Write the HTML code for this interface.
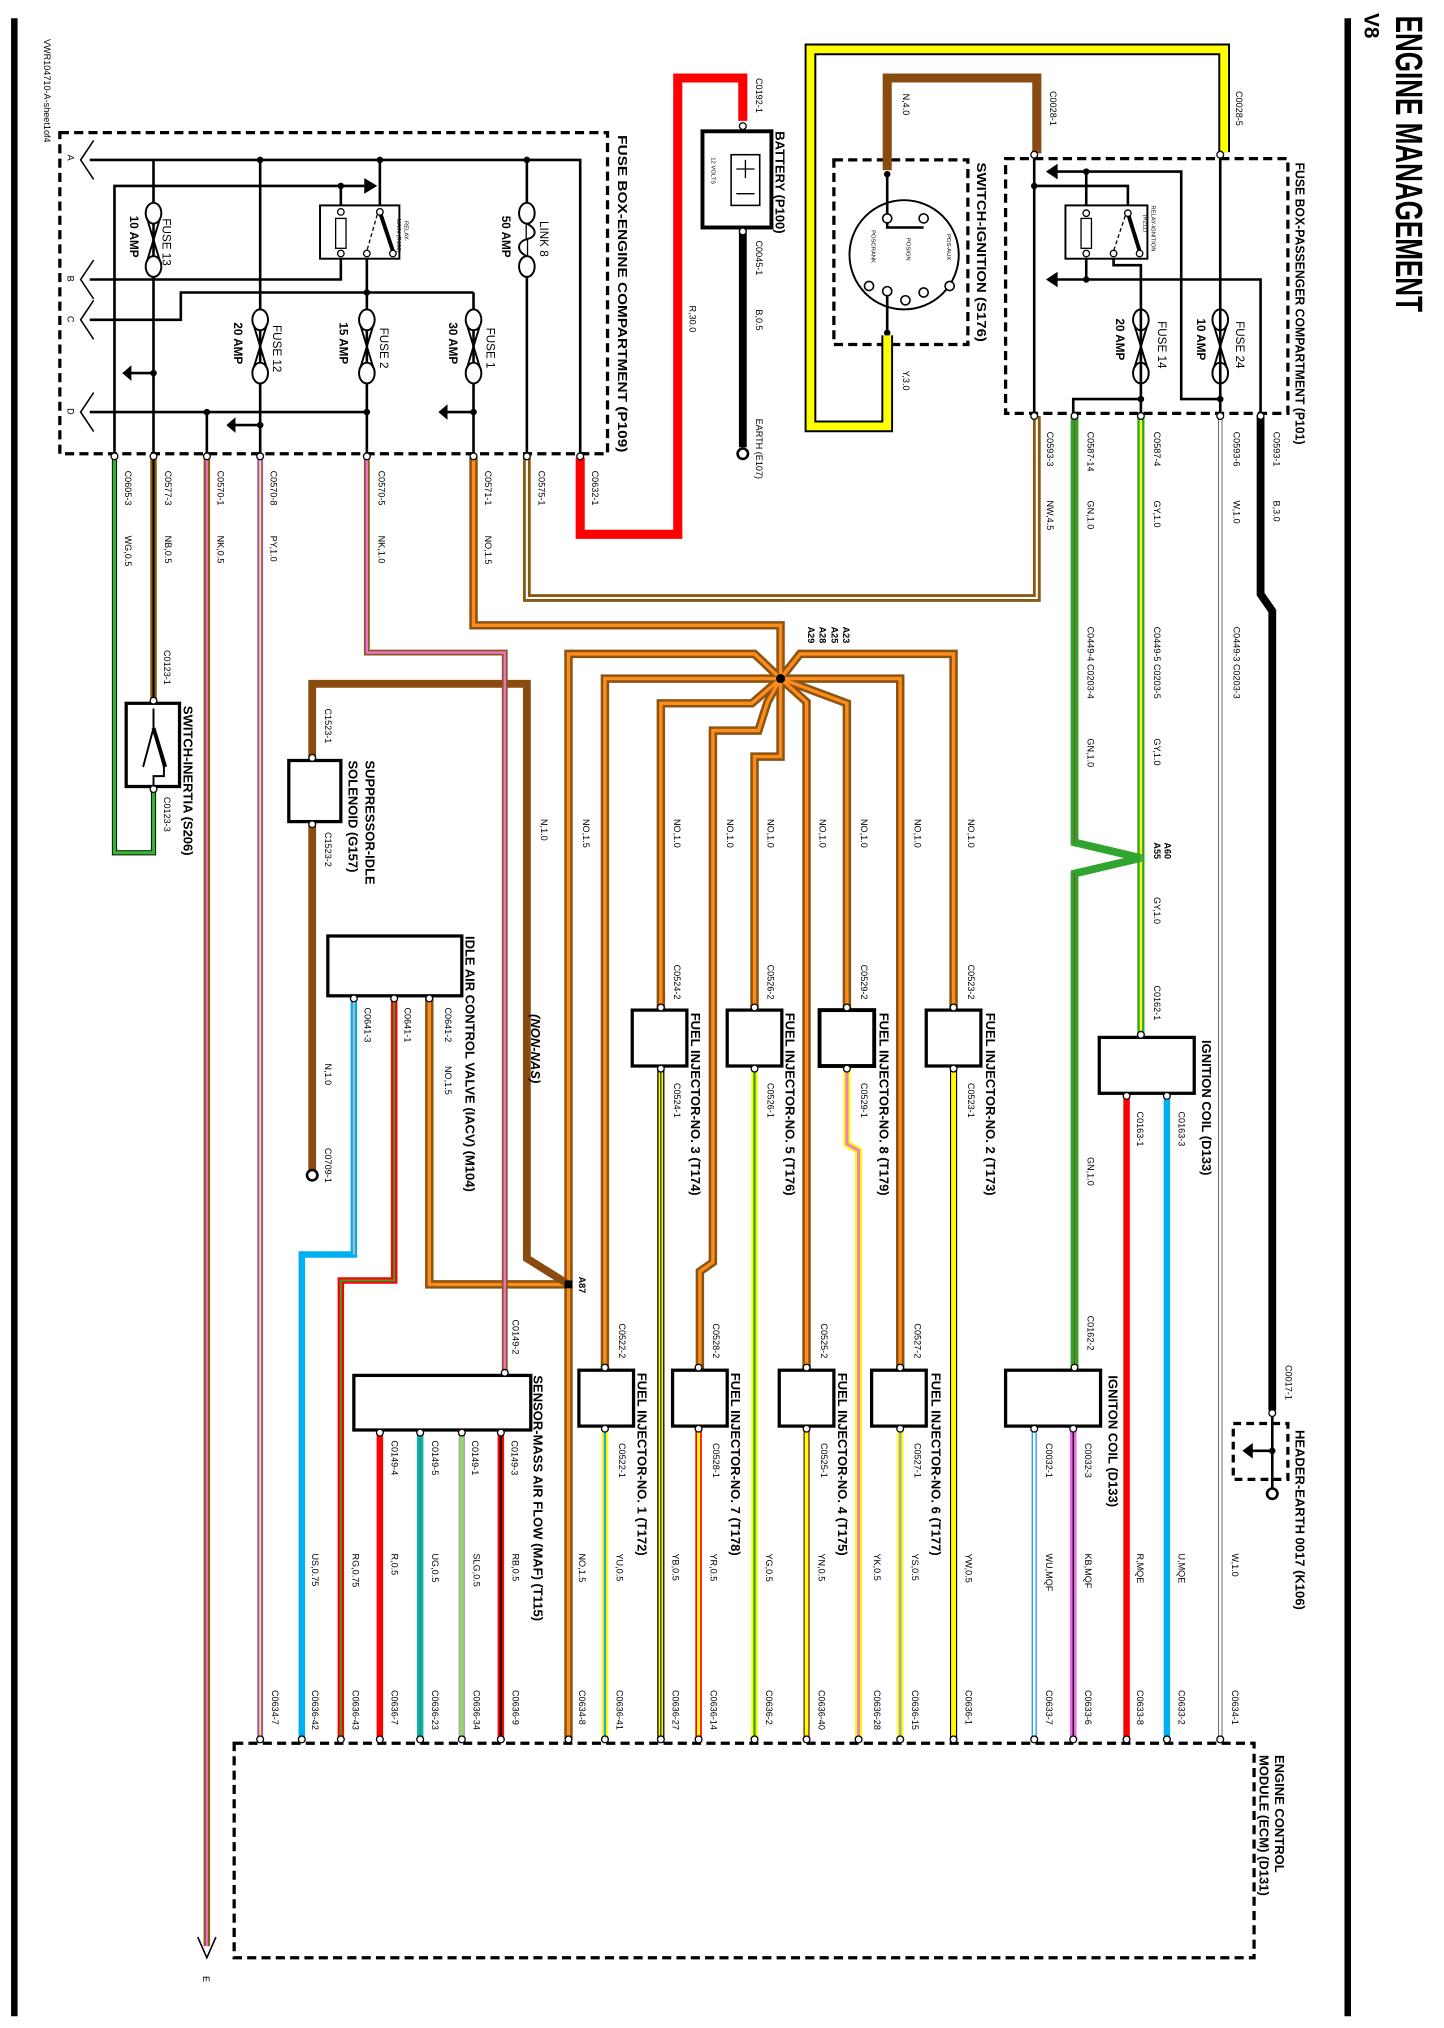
<!DOCTYPE html>
<html><head><meta charset="utf-8">
<style>
html,body{margin:0;padding:0;background:#fff;}
svg{display:block;}
text{font-family:"Liberation Sans",Arial,sans-serif;fill:#000;}
.s{font-size:7px;}
.b{font-size:10px;font-weight:bold;}
.f{font-size:9px;}
.t{font-size:4.5px;}
</style></head><body>
<svg width="1444" height="2028" viewBox="0 0 1110 1560" preserveAspectRatio="none" xmlns="http://www.w3.org/2000/svg">
<rect width="1110" height="1560" fill="#fff"/>
<g fill="none" stroke-linejoin="miter" stroke-linecap="butt">
<!-- page borders -->
<line x1="11" y1="14" x2="11" y2="1551" stroke="#000" stroke-width="5"/>
<line x1="1036" y1="14" x2="1036" y2="1551" stroke="#000" stroke-width="5"/>

<!-- dashed boxes -->
<rect x="46" y="102" width="421" height="247" stroke="#000" stroke-width="2.5" stroke-dasharray="7,4"/>
<rect x="773" y="122" width="217" height="196" stroke="#000" stroke-width="2.5" stroke-dasharray="7,4"/>
<rect x="641" y="123" width="103" height="142" stroke="#000" stroke-width="2.5" stroke-dasharray="7,4"/>
<rect x="180" y="1341" width="784" height="165" stroke="#000" stroke-width="2.5" stroke-dasharray="7,4"/>
<rect x="948" y="1095" width="42" height="43" stroke="#000" stroke-width="2.5" stroke-dasharray="6,4"/>

<!-- engine fuse box internals -->
<g stroke="#000" stroke-width="2">
<path d="M69,123 H446 V349"/>
<path d="M118,123 V349"/>
<path d="M200,123 V349"/>
<path d="M292,123 V163"/>
<path d="M405,123 V349"/>
<path d="M88,349 V143 H280"/>
<path d="M262,143 V163"/>
<path d="M262,195 V215 H69"/>
<path d="M282,195 V349"/>
<path d="M364,225 H139 V246 H69"/>
<path d="M364,225 V349"/>
<path d="M69,317 H282"/>
<path d="M159,317 V349"/>
<path d="M118,287 H100"/><path d="M200,327 H180"/><path d="M364,317 H343"/>
</g>
<g fill="#000">
<path d="M280,137 L290,143 L280,149Z"/>
<path d="M94,287 L101,281 L101,293Z"/>
<path d="M174,327 L181,321 L181,333Z"/>
<path d="M337,317 L344,311 L344,323Z"/>
<circle cx="200" cy="123" r="2.5"/><circle cx="292" cy="123" r="2.5"/><circle cx="405" cy="123" r="2.5"/>
<circle cx="262" cy="143" r="2.5"/><circle cx="282" cy="225" r="2.5"/><circle cx="118" cy="287" r="2.5"/>
<circle cx="159" cy="317" r="2.5"/><circle cx="282" cy="317" r="2.5"/><circle cx="200" cy="327" r="2.5"/><circle cx="364" cy="317" r="2.5"/>
</g>
<!-- chevrons A B C D -->
<g stroke="#000" stroke-width="1.2">
<path d="M72,108 L62,123 L72,138"/>
<path d="M72,200 L62,215 L72,230"/>
<path d="M72,231 L62,246 L72,261"/>
<path d="M72,302 L62,317 L72,332"/>
</g>
<!-- relay main -->
<rect x="246" y="158" width="61" height="41" fill="#fff" stroke="#000" stroke-width="1.5"/>
<rect x="258" y="168" width="8" height="23" fill="#fff" stroke="#000" stroke-width="1"/>
<path d="M292,163 L302,193" stroke="#000" stroke-width="3"/>
<path d="M290,165 L282,193" stroke="#000" stroke-width="1" stroke-dasharray="3,2"/>
<g fill="#fff" stroke="#000" stroke-width="1"><circle cx="262" cy="163" r="2.5"/><circle cx="262" cy="195" r="2.5"/><circle cx="292" cy="163" r="2.5"/><circle cx="282" cy="195" r="2.5"/><circle cx="302" cy="195" r="2.5"/></g>

<!-- fuses engine -->
<g fill="#fff" stroke="#000" stroke-width="1.5">
<g transform="translate(118,156)"><ellipse cx="0" cy="8" rx="6" ry="8"/><ellipse cx="0" cy="49" rx="6" ry="8"/><path d="M-5,12 L5,45 M5,12 L-5,45" fill="none"/></g>
<g transform="translate(200,238)"><ellipse cx="0" cy="8" rx="6" ry="8"/><ellipse cx="0" cy="49" rx="6" ry="8"/><path d="M-5,12 L5,45 M5,12 L-5,45" fill="none"/></g>
<g transform="translate(282,238)"><ellipse cx="0" cy="8" rx="6" ry="8"/><ellipse cx="0" cy="49" rx="6" ry="8"/><path d="M-5,12 L5,45 M5,12 L-5,45" fill="none"/></g>
<g transform="translate(364,238)"><ellipse cx="0" cy="8" rx="6" ry="8"/><ellipse cx="0" cy="49" rx="6" ry="8"/><path d="M-5,12 L5,45 M5,12 L-5,45" fill="none"/></g>
<g transform="translate(405,156)"><ellipse cx="0" cy="8" rx="6" ry="8"/><ellipse cx="0" cy="49" rx="6" ry="8"/><path d="M0,16 C8,20 8,26 0,28 C-8,30 -8,38 0,41" /></g>
<g transform="translate(877,238)"><ellipse cx="0" cy="8" rx="6" ry="8"/><ellipse cx="0" cy="49" rx="6" ry="8"/><path d="M-5,12 L5,45 M5,12 L-5,45" fill="none"/></g>
<g transform="translate(938,238)"><ellipse cx="0" cy="8" rx="6" ry="8"/><ellipse cx="0" cy="49" rx="6" ry="8"/><path d="M-5,12 L5,45 M5,12 L-5,45" fill="none"/></g>
</g>

<!-- passenger box internals -->
<g stroke="#000" stroke-width="2">
<path d="M795,118 V318"/>
<path d="M795,143 H867 V164"/>
<path d="M835,132 V215"/>
<path d="M812,132 H908 V307 H938"/>
<path d="M812,215 H969 V318"/>
<path d="M856,195 V204 H877 V318"/>
<path d="M877,307 H825 V318"/>
<path d="M938,118 V318"/>
</g>
<g fill="#000">
<path d="M804,132 L813,126 L813,138Z"/><path d="M804,215 L813,209 L813,221Z"/>
<circle cx="795" cy="143" r="2.5"/><circle cx="835" cy="132" r="2.5"/><circle cx="835" cy="215" r="2.5"/><circle cx="877" cy="307" r="2.5"/><circle cx="938" cy="307" r="2.5"/>
</g>
<rect x="819" y="158" width="63" height="41" fill="#fff" stroke="#000" stroke-width="1.5"/>
<rect x="831" y="168" width="8" height="23" fill="#fff" stroke="#000" stroke-width="1"/>
<path d="M867,164 L876,193" stroke="#000" stroke-width="3"/>
<path d="M865,166 L856,193" stroke="#000" stroke-width="1" stroke-dasharray="3,2"/>
<g fill="#fff" stroke="#000" stroke-width="1"><circle cx="835" cy="164" r="2.5"/><circle cx="835" cy="195" r="2.5"/><circle cx="867" cy="164" r="2.5"/><circle cx="856" cy="195" r="2.5"/><circle cx="876" cy="195" r="2.5"/></g>

<!-- ignition switch -->
<circle cx="695" cy="196" r="42" fill="#fff" stroke="#000" stroke-width="1.5"/>
<path d="M682,134 V175 H710 M682,224 V256" stroke="#000" stroke-width="2"/>
<g fill="#fff" stroke="#000" stroke-width="1.2"><circle cx="682" cy="168" r="3.5"/><circle cx="710" cy="168" r="3.5"/><circle cx="682" cy="224" r="3.5"/><circle cx="668" cy="220" r="3.5"/><circle cx="696" cy="231" r="3.5"/><circle cx="710" cy="225" r="3.5"/><circle cx="730" cy="220" r="3.5"/></g>
<circle cx="682" cy="134" r="2.5" fill="#000"/><circle cx="682" cy="256" r="2.5" fill="#000"/>

<!-- ===== WIRES ===== -->
<!-- red battery -->
<path d="M446,352 V411 H521 V60 H571 V93" stroke="#f00" stroke-width="7"/>
<path d="M571,175 V344" stroke="#000" stroke-width="6"/>
<!-- brown N4.0 -->
<path d="M682,131 V60 H797 V118" stroke="#8a4b10" stroke-width="7"/>
<!-- yellow Y3.0 -->
<path d="M682,258 V328 H623 V38 H941 V117" stroke="#000" stroke-width="9"/>
<path d="M682,258 V328 H623 V38 H941 V117" stroke="#ff0" stroke-width="6"/>
<!-- NW -->
<path d="M405,352 V460 H797 V320" stroke="#8a5a14" stroke-width="6"/>
<path d="M405,352 V460 H797 V320" stroke="#fff" stroke-width="1.6"/>
<!-- thick orange harness -->
<g stroke="#8a5514" stroke-width="6.5">
<path d="M364,352 V481 H600 V522"/>
<path d="M600,522 L580,503 H437 V1337"/>
<path d="M600,522 H465 V1054"/>
<path d="M600,522 L578,541 H508 V777"/>
<path d="M600,522 L590,540 L583,562 H548 V971 L538,978 V1054"/>
<path d="M600,522 V582 H580 V777"/>
<path d="M600,522 L620,540 V1054"/>
<path d="M600,522 L651,541 V777"/>
<path d="M600,522 H692 V1054"/>
<path d="M600,522 L615,503 H733 V777"/>
<path d="M330,768 V988 H437"/>
</g>
<g stroke="#ff8c1a" stroke-width="2.6">
<path d="M364,352 V481 H600 V522"/>
<path d="M600,522 L580,503 H437 V1337"/>
<path d="M600,522 H465 V1054"/>
<path d="M600,522 L578,541 H508 V777"/>
<path d="M600,522 L590,540 L583,562 H548 V971 L538,978 V1054"/>
<path d="M600,522 V582 H580 V777"/>
<path d="M600,522 L620,540 V1054"/>
<path d="M600,522 L651,541 V777"/>
<path d="M600,522 H692 V1054"/>
<path d="M600,522 L615,503 H733 V777"/>
<path d="M330,768 V988 H437"/>
</g>
<circle cx="600" cy="522" r="3.5" fill="#000"/>
<!-- brown N1.0 thick solid -->
<path d="M240,582 V526 H405 V968 L437,988" stroke="#8a4b10" stroke-width="6"/>
<path d="M240,632 V900" stroke="#8a4b10" stroke-width="6"/>
<rect x="434" y="985" width="6" height="6" fill="#000"/>
<!-- NK pink to MAF -->
<path d="M282,352 V502 H388 V1055" stroke="#8a5a14" stroke-width="4.5"/>
<path d="M282,352 V502 H388 V1055" stroke="#f070e0" stroke-width="1.8"/>
<!-- PY -->
<path d="M200,352 V1337" stroke="#a050e0" stroke-width="4.5"/>
<path d="M200,352 V1337" stroke="#ff0" stroke-width="1.3"/>
<!-- NK long -->
<path d="M159,352 V1497" stroke="#8a5a14" stroke-width="5"/>
<path d="M159,352 V1497" stroke="#f070e0" stroke-width="1.6"/>
<!-- NB -->
<path d="M118,352 V545" stroke="#8a5a14" stroke-width="5"/>
<path d="M118,352 V545" stroke="#000" stroke-width="1.6"/>
<!-- WG green loop -->
<path d="M88,352 V656 H118 V606" stroke="#000" stroke-width="4"/>
<path d="M88,352 V656 H118 V606" stroke="#2fb52f" stroke-width="2.6"/>
<!-- B3.0 -->
<path d="M969,320 V457 L978,470 V1085" stroke="#000" stroke-width="6"/>
<!-- W1.0 -->
<path d="M938,320 V1337" stroke="#666" stroke-width="3.5"/>
<path d="M938,320 V1337" stroke="#fff" stroke-width="2"/>
<!-- GY -->
<path d="M877,320 V795" stroke="#2fa52f" stroke-width="5.5"/>
<path d="M877,320 V795" stroke="#ff0" stroke-width="1.8"/>
<!-- GN -->
<path d="M826,320 V648 L877,660 L826,672 V1054" stroke="#2fa52f" stroke-width="6"/>
<path d="M826,320 V648 M826,672 V1054" stroke="#8a5a14" stroke-width="1"/>
<!-- coil outputs -->
<path d="M866,843 V1337" stroke="#f00" stroke-width="5"/>
<path d="M897,843 V1337" stroke="#00aff0" stroke-width="5"/>
<path d="M795,1099 V1337" stroke="#1a9ee0" stroke-width="4"/><path d="M795,1099 V1337" stroke="#fff" stroke-width="2"/>
<path d="M825,1099 V1337" stroke="#ee66ee" stroke-width="5"/><path d="M825,1099 V1337" stroke="#000" stroke-width="1"/>
<!-- injector outputs upper -->
<path d="M508,822 V1337" stroke="#000" stroke-width="5.5"/><path d="M508,822 V1337" stroke="#ff0" stroke-width="3.5"/><path d="M508,822 V1337" stroke="#000" stroke-width="0.8"/>
<path d="M580,822 V1337" stroke="#ff0" stroke-width="5"/><path d="M580,822 V1337" stroke="#2fa52f" stroke-width="1.8"/>
<path d="M651,822 V880 L660,885 V1337" stroke="#ff0" stroke-width="5.5"/><path d="M651,822 V880 L660,885 V1337" stroke="#f080c0" stroke-width="2.4"/>
<path d="M733,822 V1337" stroke="#000" stroke-width="5.5"/><path d="M733,822 V1337" stroke="#ff0" stroke-width="3.8"/>
<!-- injector outputs lower -->
<path d="M465,1099 V1337" stroke="#ff0" stroke-width="5"/><path d="M465,1099 V1337" stroke="#2aa8e0" stroke-width="1.8"/>
<path d="M537,1099 V1337" stroke="#f00" stroke-width="5"/><path d="M537,1099 V1337" stroke="#ff0" stroke-width="2.4"/>
<path d="M620,1099 V1337" stroke="#8a5a14" stroke-width="5"/><path d="M620,1099 V1337" stroke="#ff0" stroke-width="2.4"/>
<path d="M692,1099 V1337" stroke="#ff0" stroke-width="5"/><path d="M692,1099 V1337" stroke="#aaa" stroke-width="2"/>
<!-- IACV outputs -->
<path d="M272,768 V965 H232 V1337" stroke="#00aff0" stroke-width="5"/><path d="M272,768 V965" stroke="#bbb" stroke-width="1.5"/>
<path d="M303,768 V985 H262 V1337" stroke="#f00" stroke-width="5"/><path d="M303,768 V985 H262 V1337" stroke="#2fa52f" stroke-width="1.5"/>
<!-- MAF outputs -->
<path d="M292,1100 V1337" stroke="#f00" stroke-width="5"/>
<path d="M323,1100 V1337" stroke="#00aff0" stroke-width="5"/><path d="M323,1100 V1337" stroke="#2fa52f" stroke-width="1.8"/>
<path d="M355,1100 V1337" stroke="#aaa" stroke-width="5"/><path d="M355,1100 V1337" stroke="#90e060" stroke-width="2.4"/>
<path d="M385,1100 V1337" stroke="#f00" stroke-width="5"/><path d="M385,1100 V1337" stroke="#000" stroke-width="1.6"/>

<!-- components boxes -->
<g fill="#fff" stroke="#000">
<rect x="540" y="101" width="53" height="74" stroke-width="3"/>
<rect x="562" y="119" width="22" height="39" stroke-width="1.2"/>
<rect x="97" y="541" width="41" height="64" stroke-width="2.5"/>
<rect x="222" y="585" width="40" height="47" stroke-width="2.5"/>
<rect x="252" y="720" width="103" height="46" stroke-width="2.5"/>
<rect x="272" y="1058" width="136" height="42" stroke-width="2.5"/>
<rect x="845" y="798" width="73" height="43" stroke-width="2.5"/>
<rect x="773" y="1054" width="73" height="43" stroke-width="2.5"/>
<rect x="486" y="777" width="42" height="43" stroke-width="2.5"/>
<rect x="559" y="777" width="42" height="43" stroke-width="2.5"/>
<rect x="630" y="777" width="42" height="43" stroke-width="3"/>
<rect x="712" y="777" width="42" height="43" stroke-width="2.5"/>
<rect x="445" y="1054" width="42" height="43" stroke-width="2.5"/>
<rect x="517" y="1054" width="42" height="43" stroke-width="2.5"/>
<rect x="599" y="1054" width="42" height="43" stroke-width="2.5"/>
<rect x="670" y="1054" width="42" height="43" stroke-width="2.5"/>
</g>
<path d="M566,130 H580 M573,123 V137 M566,149 H580" stroke="#000" stroke-width="1"/>
<!-- inertia switch internals -->
<path d="M118,545 V560 L126,590 M118,560 L110,590 M126,590 V597 H118 V606" stroke="#000" stroke-width="1.5"/>
<path d="M118,560 L127,590" stroke="#000" stroke-width="3"/>
<!-- header earth internals -->
<path d="M978,1085 V1146 M978,1116 H962" stroke="#000" stroke-width="2"/>
<path d="M955,1116 L963,1110 L963,1122Z" fill="#000"/>
<circle cx="978" cy="1116" r="2.5" fill="#000"/>
<!-- eyelets -->
<g fill="#fff" stroke="#000" stroke-width="2"><circle cx="571" cy="349" r="4"/><circle cx="240" cy="904" r="4"/><circle cx="978" cy="1149" r="4"/></g>
<!-- E chevron -->
<path d="M152,1490 L159,1506 L166,1490" stroke="#000" stroke-width="1.2"/>

<!-- terminals -->
<g fill="#fff" stroke="#000" stroke-width="1">
<circle cx="88" cy="351" r="2.6"/><circle cx="118" cy="351" r="2.6"/><circle cx="159" cy="351" r="2.6"/><circle cx="200" cy="351" r="2.6"/><circle cx="282" cy="351" r="2.6"/><circle cx="364" cy="351" r="2.6"/><circle cx="405" cy="351" r="2.6"/><circle cx="446" cy="351" r="2.6"/>
<circle cx="795" cy="320" r="2.6"/><circle cx="826" cy="320" r="2.6"/><circle cx="877" cy="320" r="2.6"/><circle cx="938" cy="320" r="2.6"/><circle cx="969" cy="320" r="2.6"/>
<circle cx="795" cy="119" r="2.6"/><circle cx="938" cy="119" r="2.6"/><circle cx="571" cy="97" r="2.6"/><circle cx="571" cy="178" r="2.6"/>
<circle cx="118" cy="539" r="2.6"/><circle cx="118" cy="607" r="2.6"/><circle cx="240" cy="583" r="2.6"/><circle cx="240" cy="634" r="2.6"/>
<circle cx="272" cy="768" r="2.6"/><circle cx="303" cy="768" r="2.6"/><circle cx="330" cy="768" r="2.6"/>
<circle cx="388" cy="1056" r="2.6"/><circle cx="292" cy="1102" r="2.6"/><circle cx="323" cy="1102" r="2.6"/><circle cx="355" cy="1102" r="2.6"/><circle cx="385" cy="1102" r="2.6"/>
<circle cx="877" cy="796" r="2.6"/><circle cx="866" cy="843" r="2.6"/><circle cx="897" cy="843" r="2.6"/>
<circle cx="826" cy="1052" r="2.6"/><circle cx="795" cy="1099" r="2.6"/><circle cx="825" cy="1099" r="2.6"/><circle cx="978" cy="1087" r="2.6"/>
<circle cx="508" cy="775" r="2.6"/><circle cx="580" cy="775" r="2.6"/><circle cx="651" cy="775" r="2.6"/><circle cx="733" cy="775" r="2.6"/>
<circle cx="508" cy="822" r="2.6"/><circle cx="580" cy="822" r="2.6"/><circle cx="651" cy="822" r="2.6"/><circle cx="733" cy="822" r="2.6"/>
<circle cx="465" cy="1052" r="2.6"/><circle cx="537" cy="1052" r="2.6"/><circle cx="620" cy="1052" r="2.6"/><circle cx="692" cy="1052" r="2.6"/>
<circle cx="465" cy="1099" r="2.6"/><circle cx="537" cy="1099" r="2.6"/><circle cx="620" cy="1099" r="2.6"/><circle cx="692" cy="1099" r="2.6"/>
<circle cx="200" cy="1338" r="2.6"/><circle cx="232" cy="1338" r="2.6"/><circle cx="262" cy="1338" r="2.6"/><circle cx="292" cy="1338" r="2.6"/><circle cx="323" cy="1338" r="2.6"/><circle cx="355" cy="1338" r="2.6"/><circle cx="385" cy="1338" r="2.6"/><circle cx="437" cy="1338" r="2.6"/><circle cx="465" cy="1338" r="2.6"/><circle cx="508" cy="1338" r="2.6"/><circle cx="537" cy="1338" r="2.6"/><circle cx="580" cy="1338" r="2.6"/><circle cx="620" cy="1338" r="2.6"/><circle cx="660" cy="1338" r="2.6"/><circle cx="692" cy="1338" r="2.6"/><circle cx="733" cy="1338" r="2.6"/><circle cx="795" cy="1338" r="2.6"/><circle cx="825" cy="1338" r="2.6"/><circle cx="866" cy="1338" r="2.6"/><circle cx="897" cy="1338" r="2.6"/><circle cx="938" cy="1338" r="2.6"/>
</g>
</g>

<!-- ===== TEXT (rotated 90deg) ===== -->
<g>
<text x="1073" y="12" transform="rotate(90 1073 12)" style="font-size:29px;font-weight:bold" textLength="228" lengthAdjust="spacingAndGlyphs">ENGINE MANAGEMENT</text>
<text x="1049" y="10" transform="rotate(90 1049 10)" style="font-size:16px;font-weight:bold">V8</text>
<text class="s" x="34" y="30" transform="rotate(90 34 30)">VWR104710-A-sheet1of4</text>

<text class="b" x="475" y="104" transform="rotate(90 475 104)" textLength="244" lengthAdjust="spacingAndGlyphs">FUSE BOX-ENGINE COMPARTMENT (P109)</text>
<text class="b" x="996" y="125" transform="rotate(90 996 125)" textLength="217" lengthAdjust="spacingAndGlyphs">FUSE BOX-PASSENGER COMPARTMENT (P101)</text>
<text class="b" x="596" y="101" transform="rotate(90 596 101)">BATTERY (P100)</text>
<text class="b" x="751" y="125" transform="rotate(90 751 125)" textLength="138" lengthAdjust="spacingAndGlyphs">SWITCH-IGNITION (S176)</text>
<text class="t" x="547" y="121" transform="rotate(90 547 121)">12 VOLTS</text>

<text class="s" x="52" y="119" transform="rotate(90 52 119)">A</text>
<text class="s" x="52" y="212" transform="rotate(90 52 212)">B</text>
<text class="s" x="52" y="243" transform="rotate(90 52 243)">C</text>
<text class="s" x="52" y="314" transform="rotate(90 52 314)">D</text>

<text class="f" x="125" y="168" transform="rotate(90 125 168)">FUSE 13</text>
<text class="f" x="100" y="166" transform="rotate(90 100 166)" font-weight="bold">10 AMP</text>
<text class="f" x="210" y="250" transform="rotate(90 210 250)">FUSE 12</text>
<text class="f" x="180" y="248" transform="rotate(90 180 248)" font-weight="bold">20 AMP</text>
<text class="f" x="292" y="252" transform="rotate(90 292 252)">FUSE 2</text>
<text class="f" x="261" y="248" transform="rotate(90 261 248)" font-weight="bold">15 AMP</text>
<text class="f" x="374" y="252" transform="rotate(90 374 252)">FUSE 1</text>
<text class="f" x="345" y="248" transform="rotate(90 345 248)" font-weight="bold">30 AMP</text>
<text class="f" x="415" y="170" transform="rotate(90 415 170)">LINK 8</text>
<text class="f" x="386" y="166" transform="rotate(90 386 166)" font-weight="bold">50 AMP</text>
<text class="t" x="311" y="170" transform="rotate(90 311 170)">RELAY-</text>
<text class="t" x="305" y="168" transform="rotate(90 305 168)">MAIN (R100)</text>
<text class="t" x="885" y="158" transform="rotate(90 885 158)">RELAY-IGNITION</text>
<text class="t" x="879" y="165" transform="rotate(90 879 165)">(R211)</text>
<text class="f" x="890" y="247" transform="rotate(90 890 247)">FUSE 14</text>
<text class="f" x="858" y="245" transform="rotate(90 858 245)" font-weight="bold">20 AMP</text>
<text class="f" x="950" y="247" transform="rotate(90 950 247)">FUSE 24</text>
<text class="f" x="920" y="245" transform="rotate(90 920 245)" font-weight="bold">10 AMP</text>
<text class="t" x="728" y="180" transform="rotate(90 728 180)">POS-AUX</text>
<text class="t" x="697" y="183" transform="rotate(90 697 183)">POSIGN</text>
<text class="t" x="670" y="177" transform="rotate(90 670 177)">POSCRANK</text>

<!-- battery/switch wire labels -->
<text class="s" x="581" y="60" transform="rotate(90 581 60)">C0192-1</text>
<text class="s" x="581" y="185" transform="rotate(90 581 185)">C0045-1</text>
<text class="s" x="581" y="238" transform="rotate(90 581 238)">B,0.5</text>
<text class="s" x="581" y="322" transform="rotate(90 581 322)">EARTH (E107)</text>
<text class="s" x="530" y="235" transform="rotate(90 530 235)">R,30.0</text>
<text class="s" x="694" y="72" transform="rotate(90 694 72)">N,4.0</text>
<text class="s" x="694" y="285" transform="rotate(90 694 285)">Y,3.0</text>
<text class="s" x="807" y="70" transform="rotate(90 807 70)">C0028-1</text>
<text class="s" x="950" y="70" transform="rotate(90 950 70)">C0028-5</text>

<!-- engine box bottom labels -->
<text class="s" x="96" y="362" transform="rotate(90 96 362)">C0605-3</text>
<text class="s" x="127" y="362" transform="rotate(90 127 362)">C0577-3</text>
<text class="s" x="167" y="362" transform="rotate(90 167 362)">C0570-1</text>
<text class="s" x="208" y="362" transform="rotate(90 208 362)">C0570-8</text>
<text class="s" x="291" y="362" transform="rotate(90 291 362)">C0570-5</text>
<text class="s" x="373" y="362" transform="rotate(90 373 362)">C0571-1</text>
<text class="s" x="414" y="362" transform="rotate(90 414 362)">C0575-1</text>
<text class="s" x="455" y="362" transform="rotate(90 455 362)">C0632-1</text>
<text class="s" x="96" y="412" transform="rotate(90 96 412)">WG,0.5</text>
<text class="s" x="127" y="412" transform="rotate(90 127 412)">NB,0.5</text>
<text class="s" x="167" y="412" transform="rotate(90 167 412)">NK,0.5</text>
<text class="s" x="208" y="412" transform="rotate(90 208 412)">PY,1.0</text>
<text class="s" x="291" y="412" transform="rotate(90 291 412)">NK,1.0</text>
<text class="s" x="373" y="412" transform="rotate(90 373 412)">NO,1.5</text>

<!-- passenger bottom labels -->
<text class="s" x="805" y="332" transform="rotate(90 805 332)">C0593-3</text>
<text class="s" x="836" y="332" transform="rotate(90 836 332)">C0587-14</text>
<text class="s" x="887" y="332" transform="rotate(90 887 332)">C0587-4</text>
<text class="s" x="948" y="332" transform="rotate(90 948 332)">C0593-6</text>
<text class="s" x="979" y="332" transform="rotate(90 979 332)">C0593-1</text>
<text class="s" x="805" y="385" transform="rotate(90 805 385)">NW,4.5</text>
<text class="s" x="836" y="385" transform="rotate(90 836 385)">GN,1.0</text>
<text class="s" x="887" y="385" transform="rotate(90 887 385)">GY,1.0</text>
<text class="s" x="948" y="385" transform="rotate(90 948 385)">W,1.0</text>
<text class="s" x="979" y="385" transform="rotate(90 979 385)">B,3.0</text>
<text class="s" x="836" y="482" transform="rotate(90 836 482)">C0449-4 C0203-4</text>
<text class="s" x="887" y="482" transform="rotate(90 887 482)">C0449-5 C0203-5</text>
<text class="s" x="948" y="482" transform="rotate(90 948 482)">C0449-3 C0203-3</text>
<text class="s" x="836" y="568" transform="rotate(90 836 568)">GN,1.0</text>
<text class="s" x="887" y="568" transform="rotate(90 887 568)">GY,1.0</text>
<text class="s" x="895" y="648" transform="rotate(90 895 648)" font-weight="bold">A60</text>
<text class="s" x="887" y="648" transform="rotate(90 887 648)" font-weight="bold">A55</text>
<text class="s" x="887" y="690" transform="rotate(90 887 690)">GY,1.0</text>
<text class="s" x="887" y="758" transform="rotate(90 887 758)">C0162-1</text>
<text class="b" x="924" y="800" transform="rotate(90 924 800)">IGNITION COIL (D133)</text>
<text class="s" x="874" y="855" transform="rotate(90 874 855)">C0163-1</text>
<text class="s" x="906" y="855" transform="rotate(90 906 855)">C0163-3</text>
<text class="s" x="836" y="890" transform="rotate(90 836 890)">GN,1.0</text>
<text class="s" x="836" y="1012" transform="rotate(90 836 1012)">C0162-2</text>
<text class="b" x="852" y="1058" transform="rotate(90 852 1058)">IGNITON COIL (D133)</text>
<text class="s" x="804" y="1110" transform="rotate(90 804 1110)">C0032-1</text>
<text class="s" x="834" y="1110" transform="rotate(90 834 1110)">C0032-3</text>
<text class="s" x="988" y="1050" transform="rotate(90 988 1050)">C0017-1</text>
<text class="b" x="996" y="1100" transform="rotate(90 996 1100)">HEADER-EARTH 0017 (K106)</text>
<text class="b" x="980" y="1350" transform="rotate(90 980 1350)">ENGINE CONTROL</text>
<text class="b" x="968" y="1350" transform="rotate(90 968 1350)">MODULE (ECM) (D131)</text>

<!-- splice -->
<text class="s" x="648" y="482" transform="rotate(90 648 482)" font-weight="bold">A23</text>
<text class="s" x="639" y="482" transform="rotate(90 639 482)" font-weight="bold">A25</text>
<text class="s" x="630" y="482" transform="rotate(90 630 482)" font-weight="bold">A28</text>
<text class="s" x="621" y="482" transform="rotate(90 621 482)" font-weight="bold">A29</text>
<text class="s" x="744" y="630" transform="rotate(90 744 630)">NO,1.0</text>
<text class="s" x="703" y="630" transform="rotate(90 703 630)">NO,1.0</text>
<text class="s" x="662" y="630" transform="rotate(90 662 630)">NO,1.0</text>
<text class="s" x="630" y="630" transform="rotate(90 630 630)">NO,1.0</text>
<text class="s" x="590" y="630" transform="rotate(90 590 630)">NO,1.0</text>
<text class="s" x="559" y="630" transform="rotate(90 559 630)">NO,1.0</text>
<text class="s" x="518" y="630" transform="rotate(90 518 630)">NO,1.0</text>
<text class="s" x="448" y="630" transform="rotate(90 448 630)">NO,1.5</text>
<text class="s" x="416" y="630" transform="rotate(90 416 630)">N,1.0</text>

<!-- injectors -->
<text class="s" x="744" y="742" transform="rotate(90 744 742)">C0523-2</text>
<text class="s" x="662" y="742" transform="rotate(90 662 742)">C0529-2</text>
<text class="s" x="590" y="742" transform="rotate(90 590 742)">C0526-2</text>
<text class="s" x="518" y="742" transform="rotate(90 518 742)">C0524-2</text>
<text class="s" x="744" y="833" transform="rotate(90 744 833)">C0523-1</text>
<text class="s" x="662" y="833" transform="rotate(90 662 833)">C0529-1</text>
<text class="s" x="590" y="833" transform="rotate(90 590 833)">C0526-1</text>
<text class="s" x="518" y="833" transform="rotate(90 518 833)">C0524-1</text>
<text class="b" x="758" y="779" transform="rotate(90 758 779)">FUEL INJECTOR-NO. 2 (T173)</text>
<text class="b" x="676" y="779" transform="rotate(90 676 779)">FUEL INJECTOR-NO. 8 (T179)</text>
<text class="b" x="604" y="779" transform="rotate(90 604 779)">FUEL INJECTOR-NO. 5 (T176)</text>
<text class="b" x="531" y="779" transform="rotate(90 531 779)">FUEL INJECTOR-NO. 3 (T174)</text>
<text class="s" x="703" y="1018" transform="rotate(90 703 1018)">C0527-2</text>
<text class="s" x="631" y="1018" transform="rotate(90 631 1018)">C0525-2</text>
<text class="s" x="548" y="1018" transform="rotate(90 548 1018)">C0528-2</text>
<text class="s" x="476" y="1018" transform="rotate(90 476 1018)">C0522-2</text>
<text class="s" x="703" y="1110" transform="rotate(90 703 1110)">C0527-1</text>
<text class="s" x="631" y="1110" transform="rotate(90 631 1110)">C0525-1</text>
<text class="s" x="548" y="1110" transform="rotate(90 548 1110)">C0528-1</text>
<text class="s" x="476" y="1110" transform="rotate(90 476 1110)">C0522-1</text>
<text class="b" x="716" y="1056" transform="rotate(90 716 1056)">FUEL INJECTOR-NO. 6 (T177)</text>
<text class="b" x="644" y="1056" transform="rotate(90 644 1056)">FUEL INJECTOR-NO. 4 (T175)</text>
<text class="b" x="562" y="1056" transform="rotate(90 562 1056)">FUEL INJECTOR-NO. 7 (T178)</text>
<text class="b" x="490" y="1056" transform="rotate(90 490 1056)">FUEL INJECTOR-NO. 1 (T172)</text>

<!-- suppressor / IACV / MAF / inertia -->
<text class="b" x="281" y="585" transform="rotate(90 281 585)">SUPPRESSOR-IDLE</text>
<text class="b" x="268" y="585" transform="rotate(90 268 585)">SOLENOID (G157)</text>
<text class="s" x="250" y="545" transform="rotate(90 250 545)">C1523-1</text>
<text class="s" x="250" y="640" transform="rotate(90 250 640)">C1523-2</text>
<text class="s" x="250" y="818" transform="rotate(90 250 818)">N,1.0</text>
<text class="s" x="250" y="883" transform="rotate(90 250 883)">C0709-1</text>
<text class="b" x="358" y="720" transform="rotate(90 358 720)">IDLE AIR CONTROL VALVE (IACV) (M104)</text>
<text class="s" x="342" y="775" transform="rotate(90 342 775)">C0641-2</text>
<text class="s" x="311" y="775" transform="rotate(90 311 775)">C0641-1</text>
<text class="s" x="280" y="775" transform="rotate(90 280 775)">C0641-3</text>
<text class="s" x="342" y="820" transform="rotate(90 342 820)">NO,1.5</text>
<text class="b" x="408" y="780" transform="rotate(90 408 780)" font-style="italic">(NON-NAS)</text>
<text class="s" x="445" y="982" transform="rotate(90 445 982)" font-weight="bold">A87</text>
<text class="b" x="410" y="1058" transform="rotate(90 410 1058)">SENSOR-MASS AIR FLOW (MAF) (T115)</text>
<text class="s" x="394" y="1015" transform="rotate(90 394 1015)">C0149-2</text>
<text class="s" x="393" y="1108" transform="rotate(90 393 1108)">C0149-3</text>
<text class="s" x="363" y="1108" transform="rotate(90 363 1108)">C0149-1</text>
<text class="s" x="332" y="1108" transform="rotate(90 332 1108)">C0149-5</text>
<text class="s" x="301" y="1108" transform="rotate(90 301 1108)">C0149-4</text>
<text class="b" x="141" y="543" transform="rotate(90 141 543)">SWITCH-INERTIA (S206)</text>
<text class="s" x="126" y="500" transform="rotate(90 126 500)">C0123-1</text>
<text class="s" x="126" y="613" transform="rotate(90 126 613)">C0123-3</text>
<text class="s" x="156" y="1520" transform="rotate(90 156 1520)">E</text>

<!-- ECM wire labels -->
<text class="s" x="742" y="1195" transform="rotate(90 742 1195)">YW,0.5</text>
<text class="s" x="701" y="1195" transform="rotate(90 701 1195)">YS,0.5</text>
<text class="s" x="672" y="1195" transform="rotate(90 672 1195)">YK,0.5</text>
<text class="s" x="629" y="1195" transform="rotate(90 629 1195)">YN,0.5</text>
<text class="s" x="589" y="1195" transform="rotate(90 589 1195)">YG,0.5</text>
<text class="s" x="546" y="1195" transform="rotate(90 546 1195)">YR,0.5</text>
<text class="s" x="517" y="1195" transform="rotate(90 517 1195)">YB,0.5</text>
<text class="s" x="474" y="1195" transform="rotate(90 474 1195)">YU,0.5</text>
<text class="s" x="445" y="1195" transform="rotate(90 445 1195)">NO,1.5</text>
<text class="s" x="394" y="1195" transform="rotate(90 394 1195)">RB,0.5</text>
<text class="s" x="364" y="1195" transform="rotate(90 364 1195)">SLG,0.5</text>
<text class="s" x="332" y="1195" transform="rotate(90 332 1195)">UG,0.5</text>
<text class="s" x="301" y="1195" transform="rotate(90 301 1195)">R,0.5</text>
<text class="s" x="271" y="1195" transform="rotate(90 271 1195)">RG,0.75</text>
<text class="s" x="240" y="1195" transform="rotate(90 240 1195)">US,0.75</text>
<text class="s" x="804" y="1195" transform="rotate(90 804 1195)">WU,MQF</text>
<text class="s" x="834" y="1195" transform="rotate(90 834 1195)">KB,MQF</text>
<text class="s" x="874" y="1195" transform="rotate(90 874 1195)">R,MQE</text>
<text class="s" x="906" y="1195" transform="rotate(90 906 1195)">U,MQE</text>
<text class="s" x="947" y="1195" transform="rotate(90 947 1195)">W,1.0</text>

<!-- ECM connector labels -->
<text class="s" x="947" y="1300" transform="rotate(90 947 1300)">C0634-1</text>
<text class="s" x="906" y="1300" transform="rotate(90 906 1300)">C0633-2</text>
<text class="s" x="874" y="1300" transform="rotate(90 874 1300)">C0633-8</text>
<text class="s" x="834" y="1300" transform="rotate(90 834 1300)">C0633-6</text>
<text class="s" x="804" y="1300" transform="rotate(90 804 1300)">C0633-7</text>
<text class="s" x="742" y="1300" transform="rotate(90 742 1300)">C0636-1</text>
<text class="s" x="701" y="1300" transform="rotate(90 701 1300)">C0636-15</text>
<text class="s" x="672" y="1300" transform="rotate(90 672 1300)">C0636-28</text>
<text class="s" x="629" y="1300" transform="rotate(90 629 1300)">C0636-40</text>
<text class="s" x="589" y="1300" transform="rotate(90 589 1300)">C0636-2</text>
<text class="s" x="546" y="1300" transform="rotate(90 546 1300)">C0636-14</text>
<text class="s" x="517" y="1300" transform="rotate(90 517 1300)">C0636-27</text>
<text class="s" x="474" y="1300" transform="rotate(90 474 1300)">C0636-41</text>
<text class="s" x="445" y="1300" transform="rotate(90 445 1300)">C0634-8</text>
<text class="s" x="394" y="1300" transform="rotate(90 394 1300)">C0636-9</text>
<text class="s" x="364" y="1300" transform="rotate(90 364 1300)">C0636-34</text>
<text class="s" x="332" y="1300" transform="rotate(90 332 1300)">C0636-23</text>
<text class="s" x="301" y="1300" transform="rotate(90 301 1300)">C0636-7</text>
<text class="s" x="271" y="1300" transform="rotate(90 271 1300)">C0636-43</text>
<text class="s" x="240" y="1300" transform="rotate(90 240 1300)">C0636-42</text>
<text class="s" x="209" y="1300" transform="rotate(90 209 1300)">C0634-7</text>
</g>
</svg>
</body></html>
